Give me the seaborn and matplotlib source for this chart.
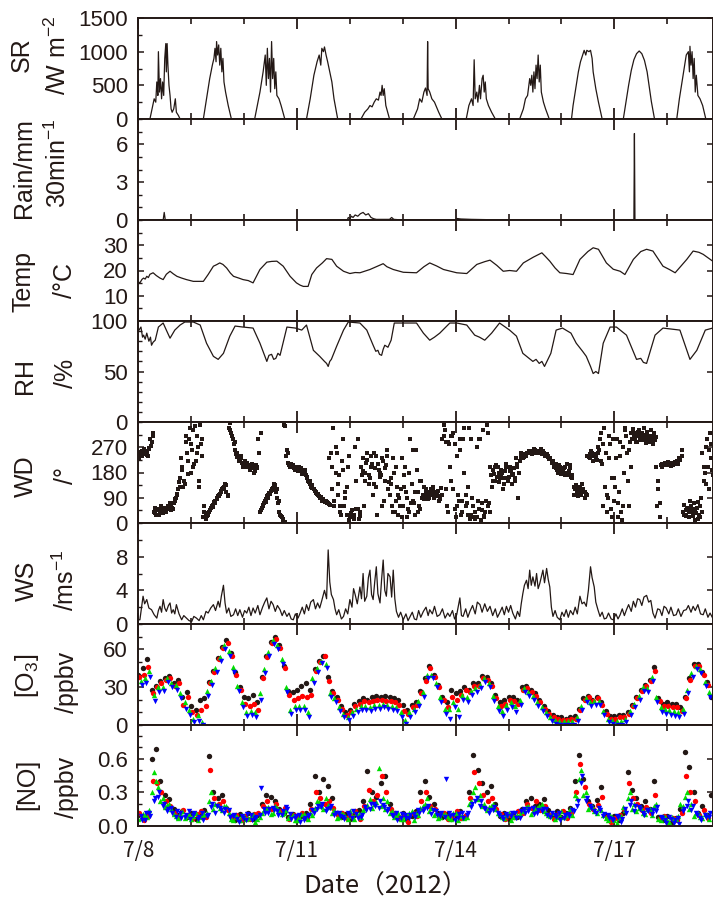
import numpy as np
import matplotlib
matplotlib.use("Agg")
import matplotlib.pyplot as plt
import seaborn as sns
from matplotlib.ticker import FixedLocator, MultipleLocator

sns.set_style("ticks")
plt.rcParams["font.family"] = ["Liberation Sans", "DejaVu Sans"]
plt.rcParams["mathtext.default"] = "regular"

# ---------------- data (time in days from 7/8 00:00) ----------------
sr_pts = [(0.00,0),(0.22,0),(0.26,150),(0.30,300),(0.33,250),(0.35,550),(0.37,350),(0.38,1000),(0.40,400),(0.42,600),
          (0.44,300),(0.46,550),(0.48,350),(0.50,900),(0.52,1120),(0.53,700),(0.545,1120),(0.56,800),(0.58,500),(0.60,350),
          (0.62,150),(0.64,100),(0.67,150),(0.70,300),(0.72,100),(0.76,50),(0.79,0),
          (1.23,0),(1.30,350),(1.35,600),(1.40,800),(1.43,900),(1.45,1050),(1.47,850),(1.48,1150),(1.50,950),(1.52,1100),
          (1.54,800),(1.56,1050),(1.58,700),(1.60,900),(1.62,550),(1.65,400),(1.70,200),(1.76,0),
          (2.20,0),(2.30,400),(2.36,700),(2.40,950),(2.42,500),(2.44,1050),(2.46,600),(2.48,900),(2.50,400),(2.52,1150),
          (2.54,600),(2.56,900),(2.58,450),(2.60,700),(2.62,350),(2.66,300),(2.70,200),(2.77,0),
          (3.18,0),(3.25,300),(3.32,650),(3.38,850),(3.42,950),(3.45,800),(3.47,1050),(3.50,1000),(3.52,1070),(3.55,950),
          (3.58,850),(3.62,700),(3.66,550),(3.70,300),(3.77,0),
          (4.21,0),(4.28,100),(4.34,150),(4.38,200),(4.42,180),(4.46,250),(4.50,300),(4.54,280),(4.57,400),(4.59,350),
          (4.61,500),(4.63,350),(4.65,450),(4.68,200),(4.75,0),
          (5.20,0),(5.28,150),(5.32,300),(5.36,250),(5.40,400),(5.43,460),(5.46,350),(5.47,1150),(5.48,450),(5.51,400),
          (5.55,300),(5.60,250),(5.68,100),(5.74,0),
          (6.20,0),(6.25,200),(6.30,300),(6.33,200),(6.35,880),(6.37,300),(6.40,400),(6.42,250),(6.45,500),(6.47,300),
          (6.50,600),(6.52,650),(6.54,400),(6.56,550),(6.58,300),(6.62,200),(6.68,100),(6.75,0),
          (7.21,0),(7.28,150),(7.32,300),(7.36,350),(7.40,600),(7.42,500),(7.44,650),(7.46,400),(7.48,700),(7.50,450),
          (7.52,800),(7.54,600),(7.56,950),(7.58,550),(7.60,800),(7.62,400),(7.66,250),(7.70,150),(7.77,0),
          (8.19,0),(8.22,200),(8.27,450),(8.32,700),(8.36,850),(8.40,950),(8.43,1020),(8.46,950),(8.48,1020),(8.52,1000),
          (8.55,1020),(8.58,900),(8.60,700),(8.62,600),(8.65,450),(8.70,250),(8.77,0),
          (9.17,0),(9.22,250),(9.27,500),(9.32,720),(9.37,880),(9.42,970),(9.47,1010),(9.52,970),(9.57,870),(9.62,700),
          (9.66,480),(9.70,260),(9.76,0),
          (10.18,0),(10.23,300),(10.28,550),(10.32,750),(10.36,950),(10.40,1000),(10.42,700),(10.43,1080),(10.45,800),
          (10.47,1000),(10.49,600),(10.51,900),(10.53,400),(10.55,650),(10.58,350),(10.62,300),(10.67,200),(10.73,0),(10.86,0)]

rain_pts = [(0.00,0),(0.47,0),(0.49,0.6),(0.51,0),(3.95,0),(3.97,0.2),(4.00,0.1),(4.03,0.3),(4.06,0.2),(4.10,0.4),
            (4.15,0.3),(4.20,0.5),(4.25,0.6),(4.30,0.4),(4.35,0.5),(4.40,0.2),(4.45,0.1),(4.50,0.05),(4.75,0.05),
            (4.79,0.2),(4.83,0.05),(5.00,0),(6.00,0),(6.02,0.12),(6.10,0.08),(6.30,0.05),(6.70,0.02),(6.80,0),
            (9.37,0),(9.38,6.85),(9.39,0),(10.86,0)]

temp_pts = [(0.00,15.5),(0.03,15.1),(0.07,16.5),(0.10,17.0),(0.13,16.6),(0.16,17.7),(0.19,17.2),(0.22,18.5),(0.28,19.1),
            (0.34,18.0),(0.41,17.0),(0.47,16.4),(0.53,18.5),(0.60,19.7),(0.66,18.7),(0.73,17.7),(0.82,17.0),(0.91,16.4),
            (1.04,15.7),(1.23,15.7),(1.32,18.4),(1.42,21.7),(1.48,22.3),(1.54,23.0),(1.60,22.4),(1.67,21.0),(1.74,19.0),
            (1.80,17.7),(1.90,17.0),(1.98,16.4),(2.08,16.0),(2.17,15.1),(2.30,20.4),(2.43,23.3),(2.52,23.6),(2.62,23.7),
            (2.74,21.7),(2.87,17.7),(2.99,15.1),(3.06,14.2),(3.12,13.7),(3.21,13.7),(3.28,18.4),(3.37,21.0),(3.48,23.0),
            (3.56,24.7),(3.66,24.4),(3.75,21.7),(3.88,19.7),(4.00,18.8),(4.10,19.2),(4.19,19.1),(4.38,20.4),(4.50,21.5),
            (4.63,22.7),(4.70,21.5),(4.82,20.4),(5.01,19.3),(5.26,19.1),(5.40,21.5),(5.51,23.0),(5.64,21.8),(5.77,20.4),
            (6.02,19.1),(6.21,18.8),(6.40,22.4),(6.55,23.5),(6.65,24.1),(6.78,22.0),(6.90,19.7),(7.02,20.0),(7.15,19.7),
            (7.28,23.0),(7.47,25.3),(7.63,27.0),(7.70,25.5),(7.78,23.7),(7.88,21.0),(7.97,19.1),(8.10,18.8),(8.22,18.4),
            (8.35,24.4),(8.50,27.5),(8.60,29.0),(8.70,28.4),(8.85,23.0),(8.98,20.5),(9.11,19.7),(9.20,18.4),(9.36,24.4),
            (9.50,27.5),(9.61,28.4),(9.73,27.7),(9.92,21.7),(10.05,20.3),(10.15,19.1),(10.37,24.4),(10.49,27.7),
            (10.60,27.2),(10.68,26.4),(10.86,23.7)]

rh_pts = [(0.00,90),(0.05,94),(0.08,84),(0.10,86),(0.13,82),(0.16,88),(0.20,80),(0.23,84),(0.25,76),(0.28,79),(0.32,81),
          (0.38,94),(0.47,98),(0.53,91),(0.60,83),(0.69,91),(0.79,96),(0.88,99),(1.04,99),(1.17,96),(1.29,78),(1.42,65),
          (1.51,62),(1.61,68),(1.73,85),(1.83,95),(1.98,94),(2.17,93),(2.30,78),(2.43,60),(2.47,66),(2.52,67),(2.56,62),
          (2.60,63),(2.64,68),(2.68,66),(2.81,94),(2.97,93),(3.09,91),(3.18,96),(3.31,71),(3.43,65),(3.52,60),(3.56,58),
          (3.59,55),(3.62,60),(3.65,62),(3.75,75),(3.88,91),(3.97,99),(4.19,98),(4.32,91),(4.44,76),(4.49,70),(4.53,71),
          (4.56,67),(4.60,66),(4.63,72),(4.66,76),(4.72,74),(4.78,81),(4.84,98),(5.01,98),(5.26,98),(5.39,88),(5.51,81),
          (5.60,84),(5.70,88),(5.89,98),(6.02,98),(6.21,96),(6.36,86),(6.45,84),(6.55,81),(6.68,88),(6.83,98),(7.02,91),
          (7.15,85),(7.27,68),(7.46,60),(7.52,62),(7.58,58),(7.63,60),(7.68,55),(7.80,68),(7.90,91),(8.02,93),(8.18,88),
          (8.28,78),(8.40,70),(8.47,65),(8.55,55),(8.60,48),(8.65,50),(8.70,48),(8.79,78),(8.92,94),(9.04,94),(9.23,86),
          (9.42,62),(9.50,63),(9.55,59),(9.61,58),(9.77,86),(9.92,93),(10.24,91),(10.43,62),(10.56,71),(10.72,91),(10.86,93)]

ws_pts = [(0.00,0.5),(0.03,0.5),(0.09,3.3),(0.12,2.4),(0.16,2.9),(0.20,1.9),(0.25,1.7),(0.30,1.1),(0.35,0.7),(0.38,1.6),
          (0.41,2.1),(0.44,1.4),(0.47,2.9),(0.50,1.9),(0.53,1.5),(0.57,2.2),(0.60,2.5),(0.63,1.3),(0.66,1.7),(0.69,1.2),
          (0.72,2.3),(0.77,1.2),(0.82,0.5),(0.86,1.0),(0.91,0.7),(0.96,0.4),(1.01,0.3),(1.05,0.9),(1.10,0.7),(1.15,0.4),
          (1.19,1.0),(1.23,0.5),(1.28,1.5),(1.32,1.3),(1.37,1.9),(1.42,2.3),(1.46,1.6),(1.51,2.7),(1.54,2.0),(1.57,3.3),
          (1.61,4.6),(1.64,2.5),(1.67,1.3),(1.71,1.9),(1.75,0.9),(1.80,1.1),(1.84,1.8),(1.88,1.0),(1.92,1.7),(1.97,0.8),
          (2.01,1.6),(2.05,1.3),(2.09,2.0),(2.13,1.0),(2.17,1.9),(2.21,1.3),(2.26,2.2),(2.30,1.1),(2.35,2.0),(2.39,2.6),
          (2.43,3.1),(2.47,1.8),(2.51,2.7),(2.55,2.3),(2.59,1.5),(2.63,2.2),(2.68,1.7),(2.72,1.0),(2.76,1.6),(2.81,0.9),
          (2.85,1.3),(2.89,0.6),(2.93,0.5),(2.97,1.2),(3.02,0.7),(3.06,1.3),(3.10,2.0),(3.14,1.2),(3.18,2.3),(3.22,1.6),
          (3.26,2.6),(3.31,2.9),(3.35,1.8),(3.39,2.5),(3.43,1.9),(3.47,2.8),(3.52,4.0),(3.56,3.0),(3.59,8.8),(3.62,5.0),
          (3.65,3.5),(3.69,2.9),(3.72,1.8),(3.75,1.1),(3.79,1.7),(3.84,0.6),(3.88,0.9),(3.92,1.8),(3.96,1.2),(4.00,2.9),
          (4.04,2.0),(4.07,4.2),(4.10,3.5),(4.14,2.4),(4.19,4.4),(4.22,3.0),(4.25,6.0),(4.28,2.7),(4.32,3.3),(4.35,5.5),
          (4.38,6.4),(4.41,3.5),(4.44,2.9),(4.47,5.0),(4.50,6.8),(4.53,3.6),(4.57,2.5),(4.60,5.3),(4.63,7.6),(4.66,4.0),
          (4.69,3.3),(4.72,6.0),(4.76,5.6),(4.79,3.2),(4.82,6.4),(4.85,3.0),(4.88,1.5),(4.92,0.8),(4.96,1.4),(5.01,0.5),
          (5.06,1.2),(5.10,0.4),(5.14,0.9),(5.18,1.4),(5.22,0.6),(5.26,0.5),(5.30,1.6),(5.34,0.8),(5.39,1.5),(5.44,2.0),
          (5.48,1.0),(5.51,1.7),(5.56,1.2),(5.60,2.1),(5.65,0.9),(5.70,1.1),(5.75,1.8),(5.80,0.7),(5.85,1.3),(5.89,0.9),
          (5.94,1.6),(5.98,0.6),(6.02,1.1),(6.08,3.1),(6.11,1.0),(6.14,0.9),(6.19,1.8),(6.23,0.8),(6.27,1.5),(6.32,2.2),
          (6.37,1.2),(6.41,2.6),(6.46,2.3),(6.50,1.4),(6.55,2.4),(6.60,1.5),(6.65,2.1),(6.70,1.0),(6.75,1.8),(6.79,0.8),
          (6.83,1.3),(6.88,2.0),(6.92,1.1),(6.96,2.1),(7.00,1.4),(7.04,2.2),(7.08,1.3),(7.13,0.6),(7.17,1.5),(7.21,0.9),
          (7.24,2.4),(7.27,3.6),(7.30,4.6),(7.34,5.2),(7.37,4.2),(7.40,6.4),(7.43,4.6),(7.46,5.6),(7.50,4.5),(7.53,6.0),
          (7.56,4.2),(7.59,4.8),(7.62,5.6),(7.65,6.4),(7.68,4.9),(7.72,6.6),(7.75,5.3),(7.78,4.4),(7.81,2.0),(7.84,0.9),
          (7.88,1.6),(7.92,0.8),(7.97,0.5),(8.01,1.4),(8.05,0.9),(8.09,1.7),(8.13,0.8),(8.17,1.6),(8.22,1.1),(8.26,2.0),
          (8.30,1.2),(8.35,3.3),(8.39,2.4),(8.43,2.6),(8.47,2.1),(8.51,4.0),(8.55,6.8),(8.58,5.5),(8.62,4.4),(8.65,2.6),
          (8.69,1.7),(8.73,0.9),(8.77,1.4),(8.81,0.6),(8.85,0.7),(8.89,1.3),(8.94,0.6),(8.98,0.5),(9.03,1.2),(9.07,0.6),
          (9.11,1.1),(9.15,1.8),(9.19,1.0),(9.23,1.7),(9.27,2.3),(9.32,1.5),(9.36,2.7),(9.40,2.0),(9.44,3.0),(9.48,2.9),
          (9.52,2.2),(9.56,3.2),(9.61,3.4),(9.65,2.6),(9.69,2.8),(9.73,1.3),(9.77,0.7),(9.82,1.8),(9.86,1.7),(9.90,1.0),
          (9.94,2.1),(9.98,1.9),(10.03,1.2),(10.07,2.0),(10.12,1.0),(10.17,1.1),(10.21,1.8),(10.26,0.9),(10.31,1.6),
          (10.36,1.7),(10.40,2.2),(10.45,1.4),(10.49,2.1),(10.53,1.6),(10.58,2.3),(10.63,1.2),(10.68,1.1),(10.72,1.8),
          (10.77,0.8),(10.81,1.3),(10.86,0.7)]

# wind direction, hourly readings at :00, :30 and :45
wd_main = [240,250,245,255,250,262,290,
           40,30,50,45,35,55,50,60,45,70,90,120,
           160,200,140,250,300,180,330,220,270,350,240,40,
           25,40,55,65,80,95,105,120,130,110,
           340,320,300,260,
           235,225,215,210,200,205,195,200,185,195,
           40,55,70,85,100,115,125,135,90,
           40,20,350,
           240,215,200,205,190,195,200,185,180,170,
           150,140,125,115,105,95,90,85,78,72,65,
           120,60,250,170,30,300,90,200,20,45,30,150,15,
           200,230,180,250,160,210,140,240,190,170,220,150,260,
           100,60,180,80,30,120,60,200,90,40,140,70,260,110,50,100,
           100,95,110,120,90,105,115,85,
           300,330,60,280,150,320,20,100,260,40,180,70,340,
           30,60,15,80,300,45,25,350,70,
           170,190,150,200,160,180,140,210,165,185,175,150,200,220,240,
           235,245,250,255,248,260,252,255,245,250,240,235,230,220,
           200,190,185,175,195,180,170,205,160,
           120,110,130,100,115,105,
           240,230,250,245,225,260,
           320,60,250,90,280,20,160,300,110,40,270,330,150,290,
           300,320,310,330,295,315,305,325,290,310,320,
           200,120,
           205,210,215,205,208,212,210,218,215,225,
           40,30,55,20,45,70,35,15,60,
           250,180,300,120,230]
wd_half = [230,258,262,248,240,300,320,
           55,45,28,60,42,40,62,70,55,85,105,145,
           230,130,290,175,340,260,210,310,150,280,20,15,
           35,48,62,75,88,100,115,125,140,95,
           355,310,280,245,
           220,240,200,220,215,190,210,180,205,300,
           320,60,78,95,108,120,140,110,70,
           30,10,345,
           260,205,210,195,200,185,190,175,190,160,
           145,130,120,108,100,90,80,75,70,230,250,
           340,180,100,40,220,60,130,10,35,25,270,50,40,
           170,60,215,140,240,100,195,30,165,230,80,205,120,
           160,230,40,130,90,20,170,110,50,300,80,30,190,60,150,85,
           120,85,100,130,105,95,80,125,
           350,120,290,200,310,50,240,80,30,300,60,130,15,
           90,20,270,50,10,330,40,60,200,
           130,175,205,145,190,120,185,160,200,140,195,230,90,250,230,
           242,250,258,245,262,250,258,248,255,240,245,228,215,200,
           210,180,200,190,170,210,185,165,100,
           135,95,125,140,90,240,
           235,255,220,240,270,300,
           210,340,100,230,50,300,130,70,240,10,180,310,260,320,
           335,300,290,315,305,340,285,310,300,280,295,
           60,20,
           200,212,208,218,202,210,215,220,230,260,
           65,25,50,80,40,10,55,30,90,
           150,270,200,320,190]
wd_third = [252,238,258,244,266,275,310,
            35,50,40,52,38,48,58,65,50,78,100,130,
            190,150,310,220,280,200,345,250,130,300,60,30,
            30,45,58,70,84,98,110,122,135,100,
            330,300,290,250,
            228,232,208,215,205,198,202,192,198,250,
            45,65,74,90,104,118,130,120,80,
            25,15,5,
            250,210,205,200,195,190,195,180,185,165,
            148,135,122,112,102,92,85,80,74,68,200,
            80,270,140,60,190,110,30,240,45,15,50,300,25,
            185,150,225,170,200,250,130,210,180,60,195,240,145,
            140,40,200,100,60,230,130,20,180,70,260,110,40,150,90,130,
            110,90,105,115,100,110,95,100,
            310,290,40,310,120,280,60,300,80,340,100,30,300,
            60,40,20,300,70,20,80,320,40,
            150,200,165,180,175,160,200,150,185,170,160,210,180,235,245,
            238,248,252,250,258,255,248,262,250,246,238,232,222,210,
            195,205,180,185,200,175,195,170,130,
            125,115,105,120,110,100,
            245,238,242,232,250,220,
            280,130,40,310,160,80,230,20,290,60,340,250,60,200,
            310,290,325,300,320,295,315,300,330,295,305,
            150,70,
            210,205,212,210,214,206,218,212,225,240,
            30,45,40,60,25,50,75,20,40,
            200,140,260,280,170]

# O3 (ppbv), four instruments, each read every 2 h (black from 0:00, red 0:30, green 1:00, blue 1:30)
o3_black = [40,45,52,28,31,35,37,39,33,36,22,26,15,12,20,21,34,43,53,62,
            67,57,42,30,22,21,24,18,38,55,66,70,63,47,27,26,28,31,33,28,
            44,51,55,38,27,22,15,10,12,17,19,21,20,22,23,22,23,22,21,20,
            16,12,16,18,27,37,47,40,32,22,18,28,25,27,30,28,33,33,39,38,
            33,24,18,20,22,22,20,30,31,28,25,20,15,11,8,6,6,5,6,7,
            13,21,23,20,22,18,11,7,7,8,8,10,16,22,28,32,36,46,21,17,
            18,17,17,14,22,37,48,48,42,34,22]
o3_red = [38,40,46,25,30,33,36,37,31,33,16,22,10,8,12,15,33,42,52,61,
          65,55,40,28,17,15,17,12,37,54,65,68,61,45,24,20,21,23,22,24,
          43,50,55,35,25,20,13,8,10,15,17,19,18,19,20,20,19,19,18,16,
          11,9,14,16,25,35,45,38,30,20,14,22,20,24,28,26,31,31,37,36,
          31,21,15,17,20,19,17,28,29,26,23,18,13,9,6,5,4,4,5,5,
          12,20,22,19,21,16,9,5,5,6,6,9,15,21,27,31,35,43,19,15,
          15,14,14,11,21,36,47,47,40,32]
o3_green = [35,37,43,24,30,30,37,33,32,25,18,12,5,8,2,27,35,45,54,63,
            59,46,31,18,10,11,10,25,44,58,67,63,52,30,12,15,15,15,10,37,
            45,51,48,25,21,14,9,6,10,13,15,15,14,16,16,17,16,15,14,10,
            4,10,13,19,26,40,40,33,22,13,13,18,13,24,22,27,29,32,37,33,
            23,15,11,16,18,15,20,29,26,23,18,14,10,6,4,3,3,3,3,6,
            15,21,18,19,19,11,5,4,3,3,5,11,17,23,30,29,38,22,14,13,
            12,11,10,13,28,41,47,44,34,26]
o3_blue = [32,33,38,19,26,27,34,30,28,21,13,8,2,3,0,23,32,42,51,60,
           55,42,27,14,7,8,6,20,41,55,64,60,48,26,9,12,12,12,6,33,
           42,49,45,22,18,11,6,4,7,10,12,12,11,13,13,14,13,12,11,6,
           1,6,10,15,22,37,37,30,18,9,5,14,6,20,18,24,26,29,34,30,
           19,11,7,12,14,10,16,26,23,20,15,11,7,3,1,0,0,0,0,3,
           12,18,15,16,16,8,2,1,0,0,2,8,14,20,27,26,35,18,10,9,
           8,7,6,9,25,38,44,41,31,22]

# NO (ppbv): black 0:00, red 0:30, green 1:00, blue 1:30, extra green 0:00 and extra blue 1:00 readings
no_black = [0.10,0.07,0.12,0.60,0.69,0.40,0.28,0.24,0.15,0.10,0.13,0.08,0.12,0.06,0.10,0.14,0.62,0.30,0.25,0.28,
            0.16,0.09,0.05,0.11,0.07,0.12,0.06,0.10,0.20,0.28,0.26,0.22,0.15,0.12,0.08,0.11,0.06,0.09,0.12,0.20,
            0.45,0.30,0.42,0.36,0.25,0.12,0.08,0.11,0.06,0.10,0.14,0.22,0.49,0.30,0.26,0.38,0.45,0.20,0.10,0.07,
            0.12,0.05,0.09,0.13,0.30,0.40,0.26,0.20,0.12,0.08,0.11,0.06,0.10,0.13,0.08,0.30,0.63,0.50,0.38,0.30,
            0.36,0.20,0.09,0.12,0.06,0.10,0.08,0.15,0.22,0.25,0.18,0.20,0.24,0.14,0.10,0.13,0.08,0.12,0.16,0.40,
            0.63,0.42,0.22,0.18,0.23,0.35,0.10,0.06,0.09,0.05,0.12,0.48,0.32,0.25,0.18,0.22,0.15,0.40,0.08,0.05,
            0.09,0.04,0.07,0.15,0.66,0.53,0.30,0.12,0.18,0.10,0.28]
no_red = [0.12,0.05,0.09,0.40,0.38,0.30,0.22,0.18,0.12,0.08,0.14,0.10,0.06,0.11,0.13,0.08,0.50,0.25,0.20,0.22,
          0.14,0.07,0.10,0.05,0.09,0.06,0.11,0.12,0.18,0.22,0.15,0.20,0.13,0.16,0.06,0.10,0.08,0.12,0.07,0.15,
          0.30,0.25,0.20,0.22,0.16,0.10,0.12,0.07,0.09,0.13,0.06,0.18,0.32,0.22,0.28,0.45,0.30,0.15,0.12,0.08,
          0.10,0.04,0.12,0.09,0.22,0.30,0.18,0.15,0.10,0.12,0.06,0.09,0.13,0.07,0.10,0.25,0.48,0.38,0.28,0.22,
          0.25,0.15,0.11,0.06,0.10,0.08,0.13,0.12,0.20,0.16,0.22,0.14,0.18,0.10,0.06,0.11,0.13,0.07,0.12,0.30,
          0.55,0.35,0.20,0.15,0.19,0.26,0.08,0.04,0.07,0.10,0.15,0.38,0.25,0.20,0.14,0.17,0.12,0.28,0.06,0.09,
          0.03,0.07,0.05,0.12,0.45,0.30,0.22,0.10,0.14,0.07]
no_green = [0.07,0.10,0.14,0.48,0.35,0.25,0.19,0.15,0.09,0.12,0.07,0.11,0.09,0.05,0.10,0.12,0.30,0.20,0.16,0.18,
            0.12,0.05,0.08,0.10,0.06,0.09,0.04,0.08,0.14,0.17,0.12,0.16,0.11,0.14,0.09,0.05,0.08,0.11,0.06,0.10,
            0.22,0.18,0.25,0.17,0.14,0.08,0.11,0.06,0.09,0.12,0.08,0.16,0.24,0.20,0.52,0.25,0.22,0.13,0.10,0.06,
            0.09,0.12,0.05,0.10,0.18,0.25,0.16,0.12,0.08,0.11,0.07,0.12,0.05,0.09,0.08,0.22,0.35,0.28,0.20,0.17,
            0.20,0.12,0.08,0.10,0.05,0.09,0.11,0.14,0.18,0.13,0.16,0.20,0.12,0.09,0.06,0.11,0.08,0.12,0.10,0.25,
            0.50,0.30,0.17,0.13,0.16,0.10,0.05,0.08,0.03,0.09,0.14,0.30,0.20,0.16,0.12,0.15,0.10,0.20,0.05,0.08,
            0.04,0.06,0.09,0.18,0.30,0.20,0.12,0.08,0.11,0.06]
no_blue = [0.05,0.12,0.09,0.25,0.30,0.20,0.15,0.12,0.13,0.07,0.10,0.06,0.12,0.08,0.05,0.10,0.20,0.18,0.14,0.15,
           0.08,0.10,0.04,0.07,0.11,0.05,0.08,0.34,0.12,0.15,0.14,0.10,0.13,0.15,0.06,0.09,0.04,0.07,0.10,0.12,
           0.18,0.20,0.15,0.18,0.12,0.09,0.06,0.10,0.13,0.07,0.10,0.14,0.20,0.18,0.22,0.17,0.15,0.09,0.05,0.11,
           0.07,0.10,0.08,0.12,0.15,0.18,0.14,0.10,0.12,0.42,0.09,0.05,0.11,0.07,0.12,0.20,0.25,0.22,0.15,0.14,
           0.17,0.10,0.06,0.09,0.12,0.07,0.13,0.12,0.15,0.11,0.14,0.15,0.10,0.12,0.08,0.05,0.10,0.09,0.13,0.22,
           0.45,0.25,0.16,0.12,0.14,0.11,0.07,0.05,0.08,0.06,0.12,0.22,0.18,0.15,0.10,0.13,0.14,0.17,0.07,0.03,
           0.06,0.05,0.02,0.15,0.22,0.18,0.10,0.05,0.08,0.12]
no_green2 = [0.06,0.11,0.08,0.30,0.40,0.22,0.17,0.20,0.11,0.07,0.13,0.09,0.06,0.12,0.08,0.11,0.22,0.15,0.19,0.14,
             0.18,0.06,0.10,0.05,0.09,0.07,0.11,0.06,0.12,0.16,0.11,0.18,0.13,0.12,0.07,0.10,0.05,0.11,0.08,0.12,
             0.16,0.21,0.15,0.19,0.12,0.07,0.12,0.09,0.13,0.06,0.11,0.14,0.19,0.16,0.21,0.18,0.15,0.12,0.08,0.12,
             0.06,0.10,0.13,0.12,0.16,0.20,0.13,0.10,0.07,0.12,0.09,0.06,0.12,0.10,0.07,0.20,0.30,0.24,0.18,0.14,
             0.18,0.15,0.11,0.07,0.12,0.08,0.10,0.13,0.17,0.11,0.15,0.18,0.13,0.10,0.12,0.08,0.13,0.10,0.15,0.28,
             0.42,0.28,0.15,0.18,0.12,0.14,0.07,0.10,0.05,0.07,0.17,0.25,0.15,0.13,0.16,0.11,0.15,0.18,0.06,0.09,
             0.05,0.08,0.06,0.20,0.26,0.15,0.09,0.12,0.07,0.10]
no_blue2 = [0.09,0.05,0.12,0.22,0.26,0.18,0.13,0.16,0.08,0.12,0.08,0.13,0.10,0.06,0.12,0.09,0.17,0.12,0.16,0.12,
            0.14,0.09,0.06,0.09,0.05,0.10,0.07,0.10,0.15,0.12,0.16,0.13,0.10,0.17,0.11,0.07,0.10,0.05,0.09,0.14,
            0.15,0.17,0.13,0.16,0.10,0.12,0.08,0.12,0.07,0.11,0.08,0.17,0.15,0.20,0.16,0.19,0.13,0.10,0.12,0.07,
            0.10,0.07,0.11,0.14,0.13,0.16,0.11,0.13,0.09,0.08,0.12,0.10,0.07,0.12,0.10,0.17,0.22,0.18,0.16,0.12,
            0.14,0.12,0.08,0.11,0.09,0.12,0.07,0.15,0.13,0.16,0.12,0.13,0.15,0.08,0.10,0.12,0.07,0.11,0.14,0.18,
            0.38,0.22,0.18,0.13,0.16,0.09,0.10,0.06,0.09,0.04,0.15,0.19,0.13,0.17,0.12,0.14,0.11,0.13,0.08,0.05,
            0.08,0.03,0.07,0.13,0.18,0.14,0.12,0.07,0.10,0.08]

date_ticks = [0, 3, 6, 9]
date_labels = ["7/8", "7/11", "7/14", "7/17"]

# ---------------- figure ----------------
INK = "#231815"
RED, GREEN, BLUE = "#ff0000", "#00dd00", "#0000ff"
XMAX = 10.86
W, H = 713, 902
fig = plt.figure(figsize=(W / 100, H / 100), dpi=100)
tops = [18, 119, 220, 321, 422, 523, 624, 725]
PH = 101
axes = [fig.add_axes([138.3 / W, (H - t - PH) / H, 574.4 / W, PH / H]) for t in tops]


def hours_to_days(n, offset):
    return (offset + 2.0 * np.arange(n)) / 24.0


def line(ax, pts):
    t, v = zip(*pts)
    sns.lineplot(x=list(t), y=list(v), ax=ax, color=INK, lw=0.9, estimator=None, sort=False)


line(axes[0], sr_pts)
line(axes[1], rain_pts)
line(axes[2], temp_pts)
line(axes[3], rh_pts)
line(axes[5], ws_pts)

wd_t = np.concatenate([np.arange(len(wd_main)) / 24.0,
                       (np.arange(len(wd_half)) + 0.5) / 24.0,
                       (np.arange(len(wd_third)) + 0.75) / 24.0])
wd_v = np.concatenate([wd_main, wd_half, wd_third])
sns.scatterplot(x=wd_t, y=wd_v, ax=axes[4], color=INK, marker="s", s=9, linewidth=0, legend=False)

o3_series = [(o3_black, 0.0, INK, "o"), (o3_red, 0.5, RED, "o"),
             (o3_green, 1.0, GREEN, "^"), (o3_blue, 1.5, BLUE, "v")]
no_series = [(no_black, 0.0, INK, "o"), (no_red, 0.5, RED, "o"),
             (no_green, 1.0, GREEN, "^"), (no_green2, 0.0, GREEN, "^"),
             (no_blue, 1.5, BLUE, "v"), (no_blue2, 1.0, BLUE, "v")]
for ax, series in [(axes[6], o3_series), (axes[7], no_series)]:
    for vals, off, col, mk in series:
        sns.scatterplot(x=hours_to_days(len(vals), off), y=vals, ax=ax, color=col, marker=mk,
                        s=15, linewidth=0, legend=False)

cfg = [((0, 1500), [0, 500, 1000, 1500], 250, ["0", "500", "1000", "1500"]),
       ((0, 8), [0, 3, 6], 1, ["0", "3", "6"]),
       ((0, 40), [10, 20, 30], 5, ["10", "20", "30"]),
       ((0, 100), [0, 50, 100], 10, ["0", "50", "100"]),
       ((0, 360), [0, 90, 180, 270], 45, ["0", "90", "180", "270"]),
       ((0, 12), [0, 4, 8], 2, ["0", "4", "8"]),
       ((0, 80), [0, 30, 60], 10, ["0", "30", "60"]),
       ((0, 0.9), [0, 0.3, 0.6], 0.1, ["0.0", "0.3", "0.6"])]

for i, (ax, (ylim, majors, minor, labs)) in enumerate(zip(axes, cfg)):
    ax.set_xlim(0, XMAX)
    ax.set_ylim(*ylim)
    ax.xaxis.set_major_locator(FixedLocator(date_ticks))
    ax.xaxis.set_minor_locator(MultipleLocator(1))
    ax.yaxis.set_major_locator(FixedLocator(majors))
    ax.yaxis.set_minor_locator(MultipleLocator(minor))
    ax.set_yticklabels(labs)
    ax.tick_params(axis="both", which="both", direction="in", top=True, right=True, colors=INK,
                   labelsize=16, pad=7.5)
    ax.tick_params(axis="x", which="major", length=8, width=1.3)
    ax.tick_params(axis="x", which="minor", length=4.5, width=1.2)
    ax.tick_params(axis="y", which="major", length=4, width=1.1)
    ax.tick_params(axis="y", which="minor", length=3, width=1.0, right=False)
    for sp in ax.spines.values():
        sp.set_linewidth(1.4)
        sp.set_color(INK)
    ax.set_xlabel("")
    ax.set_ylabel("")
    if i < 7:
        ax.tick_params(axis="x", which="both", labelbottom=False)
    else:
        ax.set_xticklabels(date_labels)
        for lab in ax.get_xticklabels():
            lab.set_fontfamily(["Noto Sans CJK JP", "DejaVu Sans"])
            lab.set_fontsize(15)
        ax.tick_params(axis="x", which="major", pad=10)

ylabels = [("SR", 22, 55, r"/W m$^{-2}$", 58, 55),
           ("Rain/mm", 24, 168, r"30min$^{-1}$", 58, 163),
           ("Temp", 24, 282, "/°C", 65, 280),
           ("RH", 25, 376, "/%", 66, 373),
           ("WD", 26, 476, "/°", 66, 475),
           ("WS", 27, 581, r"/ms$^{-1}$", 66, 580),
           (r"[O$_3$]", 27, 676, "/ppbv", 67, 682),
           ("[NO]", 27, 784, "/ppbv", 67, 787)]
for a, ax_, ay, b, bx, by in ylabels:
    fig.text(ax_ / W, 1 - ay / H, a, rotation=90, ha="center", va="center", fontsize=18, color=INK)
    fig.text(bx / W, 1 - by / H, b, rotation=90, ha="center", va="center", fontsize=18, color=INK)

fig.text(386 / W, 1 - 887 / H, "Date（2012）", ha="center", va="center", fontsize=18.5, color=INK,
         family=["Noto Sans CJK JP", "DejaVu Sans"])

fig.savefig("out.png", dpi=100)
